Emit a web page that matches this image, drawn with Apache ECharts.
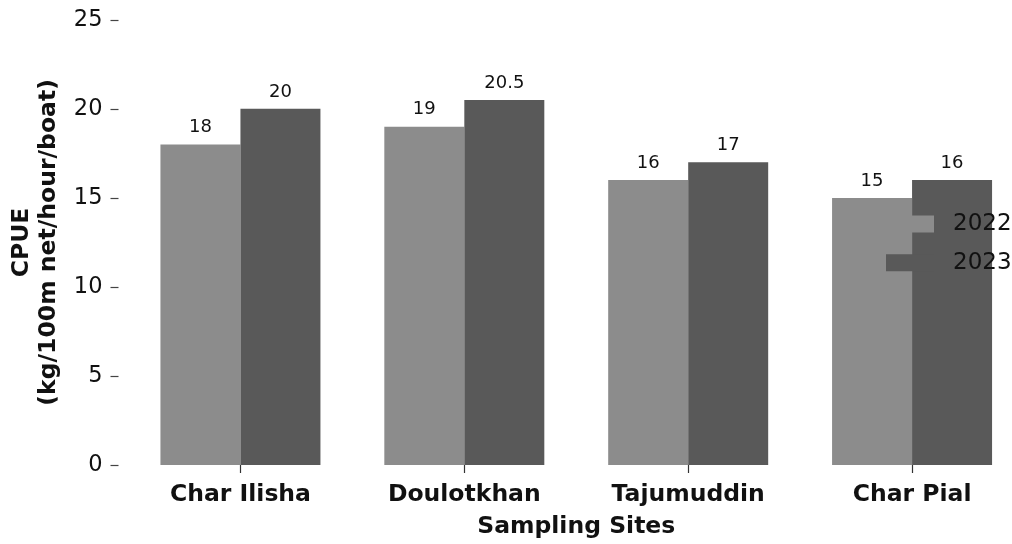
<!DOCTYPE html>
<html>
<head>
<meta charset="utf-8">
<script src="https://cdn.jsdelivr.net/npm/echarts@6/dist/echarts.min.js"></script>
<style>
  html, body { margin: 0; padding: 0; background: #ffffff; overflow: hidden; }
  /* the plot area runs slightly past the right edge of the window */
  #chart { width: 1024px; height: 544px; }
</style>
</head>
<body>
<div id="chart"></div>
<script>
// CPUE per sampling site, 2022 vs 2023
const sites = ['Char Ilisha', 'Doulotkhan', 'Tajumuddin', 'Char Pial'];
const cpue2022 = [18, 19, 16, 15];
const cpue2023 = [20, 20.5, 17, 16];
const yTicks = [0, 5, 10, 15, 20, 25];

const FONT = 'DejaVu Sans';
const chart = echarts.init(document.getElementById('chart'));

function barSeries(name, data, color) {
  return {
    name: name,
    type: 'bar',
    data: data,
    barWidth: 80,
    barGap: '0%',
    itemStyle: { color: color },
    label: {
      show: true,
      position: 'top',
      distance: 8,
      fontFamily: FONT,
      fontSize: 18,
      color: '#111111'
    },
    z: 2
  };
}

chart.setOption({
  animation: false,
  backgroundColor: '#ffffff',
  textStyle: { fontFamily: FONT },
  grid: { left: 128, right: 0, top: 19.8, height: 448.4 },
  legend: {
    orient: 'vertical',
    left: 886,
    top: 212.5,
    padding: 0,
    icon: 'rect',
    itemWidth: 48,
    itemHeight: 17,
    itemGap: 15.7,
    z: 10,
    textStyle: {
      fontFamily: FONT,
      fontSize: 23,
      lineHeight: 20,
      color: '#111111',
      padding: [0, 0, 0, 14]
    },
    data: ['2022', '2023']
  },
  xAxis: {
    type: 'category',
    data: sites,
    boundaryGap: true,
    axisLine: { show: false },
    axisTick: {
      show: true,
      alignWithLabel: true,
      length: 8,
      lineStyle: { color: '#333333', width: 1.2 }
    },
    axisLabel: {
      margin: 18,
      fontFamily: FONT,
      fontSize: 23.5,
      fontWeight: 'bold',
      color: '#111111'
    },
    name: 'Sampling Sites',
    nameLocation: 'middle',
    nameGap: 50,
    nameTextStyle: {
      fontFamily: FONT,
      fontSize: 23.5,
      fontWeight: 'bold',
      color: '#111111'
    }
  },
  yAxis: {
    type: 'value',
    min: yTicks[0],
    max: yTicks[yTicks.length - 1],
    interval: 5,
    offset: 10,
    splitLine: { show: false },
    axisLine: { show: false },
    axisTick: {
      show: true,
      length: 8,
      lineStyle: { color: '#444444', width: 1.2 }
    },
    axisLabel: {
      margin: 16,
      fontFamily: FONT,
      fontSize: 22.5,
      color: '#111111'
    },
    name: 'CPUE\n(kg/100m net/hour/boat)',
    nameLocation: 'middle',
    nameGap: 56.5,
    nameRotate: 90,
    nameTextStyle: {
      fontFamily: FONT,
      fontSize: 23.5,
      fontWeight: 'bold',
      color: '#111111',
      lineHeight: 27
    }
  },
  series: [
    barSeries('2022', cpue2022, '#8c8c8c'),
    barSeries('2023', cpue2023, '#595959')
  ]
});
</script>
</body>
</html>
